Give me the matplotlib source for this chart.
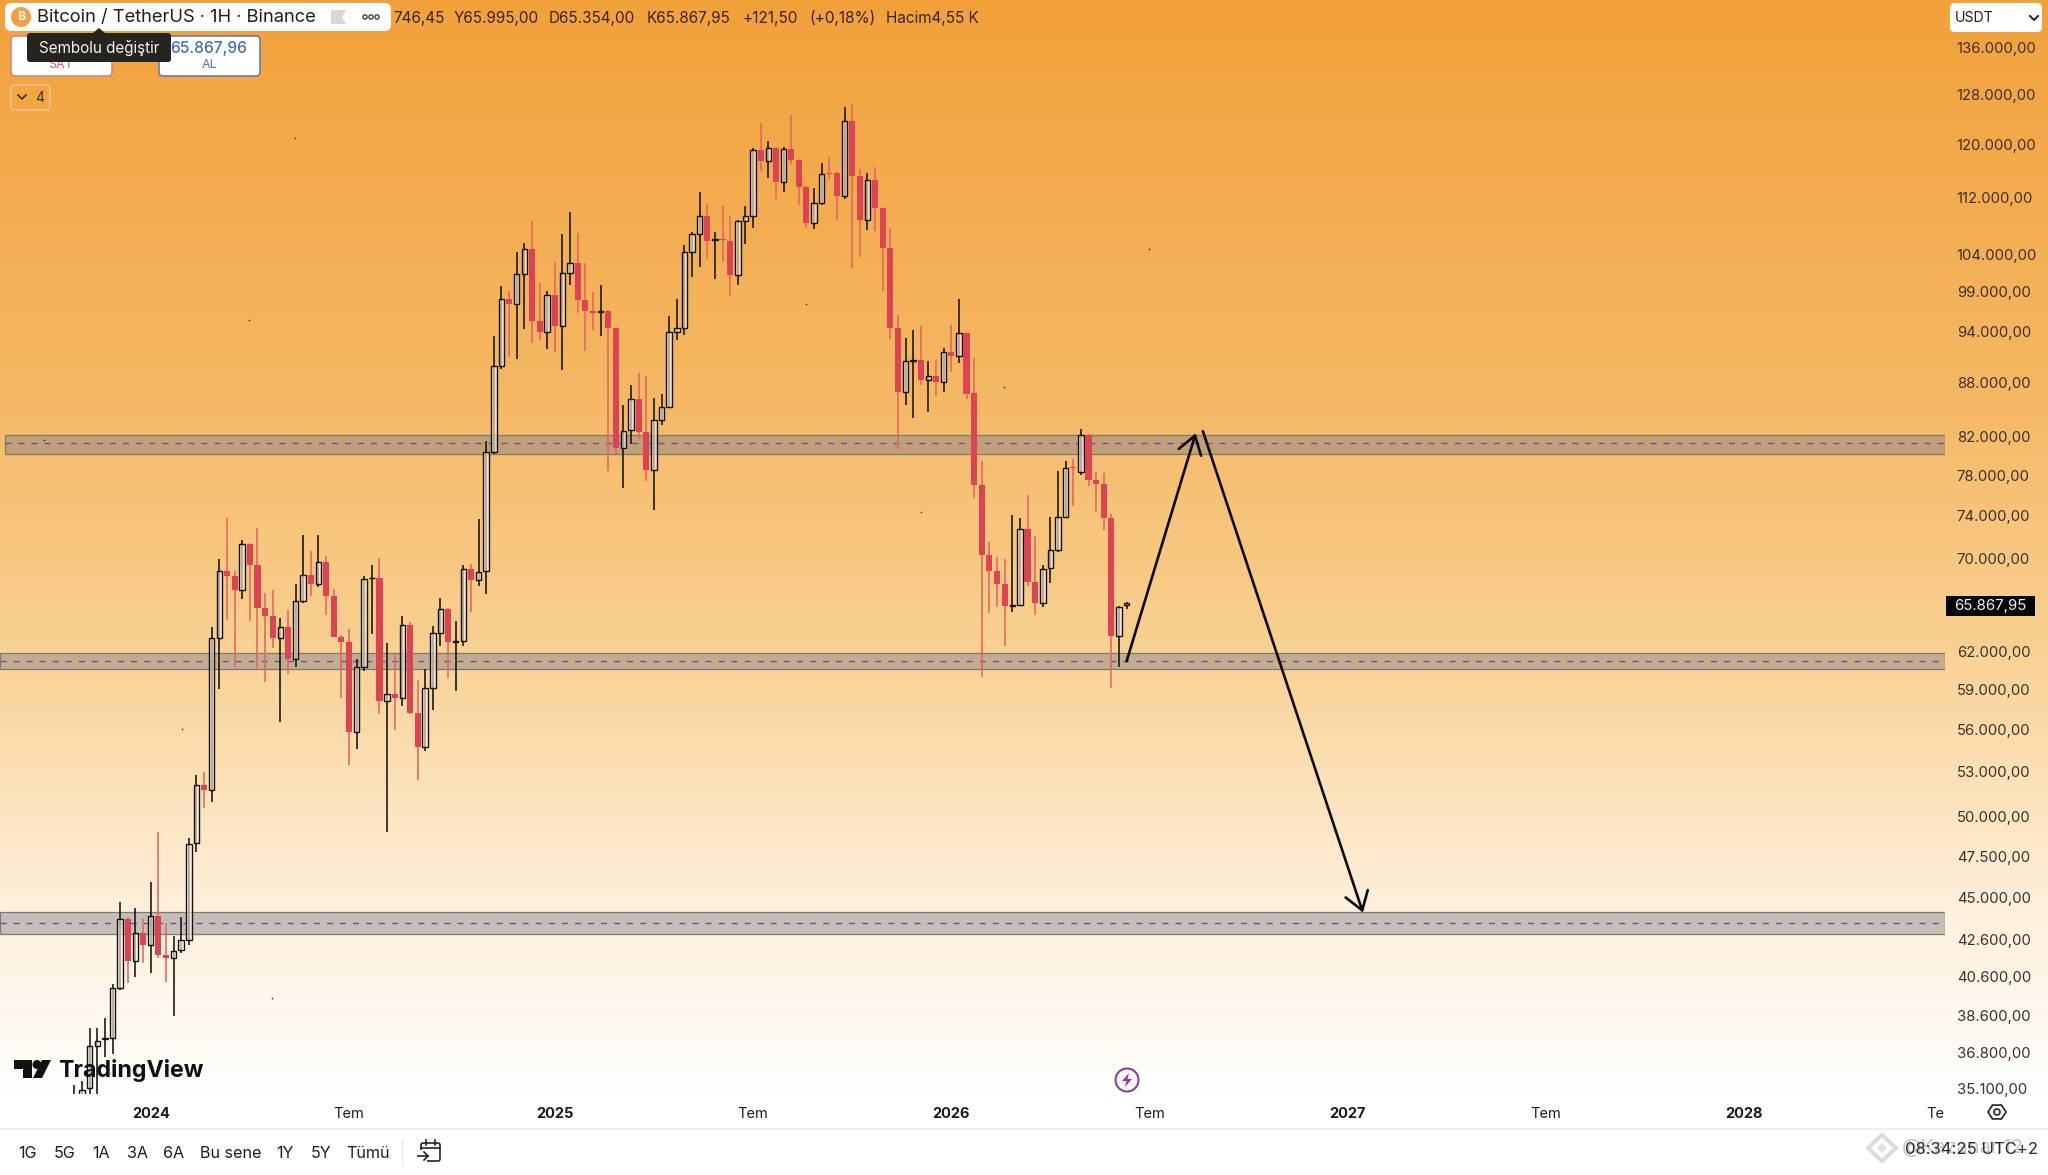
import numpy as np
import matplotlib
matplotlib.use("Agg")
import matplotlib.pyplot as plt
from matplotlib.patches import Circle, FancyBboxPatch, Polygon, Rectangle
from matplotlib.ticker import NullLocator
from matplotlib.transforms import ScaledTranslation

plt.rcParams['font.family'] = ['Inter', 'DejaVu Sans']

opens = [33900,34400,35020,37010,37330,37390,39920,43680,41320,42890,
42200,43830,41660,41530,41950,42510,48180,51990,51620,62940,
68700,68240,67030,71110,69240,65490,64750,62940,63840,61280,
66040,68300,67500,69480,66500,63040,62620,55710,60620,68050,
68100,58000,58500,58260,64000,57070,54600,58960,63370,65400,
62660,62700,68890,67930,68680,80190,89750,97860,97180,101060,
104440,95160,93720,98330,94540,101240,102620,97690,96420,96200,
96300,94250,80610,82500,85920,82280,78320,83640,85030,93720,
94250,104110,106500,109000,105700,105800,105570,100960,108380,109050,
118900,117100,119200,114000,119000,117300,113300,108070,110900,115300,
115300,111900,123360,114900,108500,114300,110200,104600,94200,86720,
90300,90400,88050,88580,87900,91400,90880,93620,86600,76830,
70150,68680,67540,65650,65750,72510,67710,65870,68950,70580,
73700,78600,78150,82000,77330,76930,73550,63150,65700]

highs = [35200,35370,37910,37910,38370,40120,44630,43800,44300,43680,
45800,48910,43450,42720,43790,48530,52680,52870,63850,69770,
73560,68700,71520,71200,72630,66710,67030,64580,65330,67570,
71980,70490,71980,70020,67100,63200,63680,61280,68200,69240,
69880,62540,61660,64800,64300,59640,60460,63940,66320,65500,
64320,69200,69300,73500,81350,93230,99550,98900,104110,105260,
108380,99970,98900,102700,106500,109670,106600,102530,98800,99620,
96500,94300,85240,87460,88860,88500,86060,86450,95700,97860,
105000,106800,112500,110780,106830,110540,109000,108500,110540,119200,
123100,120200,119300,119300,124300,117400,113400,113150,116800,117700,
115400,125600,126100,115900,115300,116300,110300,107300,95920,93030,
94050,94460,90290,90570,91800,94660,97850,93650,90600,79310,
71320,69980,69800,73890,73630,75820,71890,69200,73700,78200,
79310,79500,82670,82100,78100,78000,73950,65650,65995]

lows = [33600,33900,34700,34700,36470,36650,39800,40190,40470,41230,
40680,41490,40240,38510,41760,42240,47670,50450,50840,58920,
64420,60620,66270,64320,60560,59480,62140,56430,60050,60650,
65850,66500,67300,64900,63000,58250,53380,54470,60300,63300,
57000,48910,55820,57650,57000,52300,54350,57300,62340,59730,
58790,62300,65100,67340,66690,80000,89360,90810,90500,94130,
92480,92770,91700,91350,89240,99620,96100,91420,94050,93320,
78240,79940,76530,81070,81530,77190,74390,83070,84900,92800,
93430,100760,102090,103100,100400,102760,98240,99620,105100,107370,
115600,114500,111500,112500,116700,110600,107300,107200,110600,114400,
108450,111500,101900,103400,107100,106900,98870,92930,80550,85270,
83780,87500,84520,86300,86720,89000,90080,85980,75530,59840,
65020,65510,62320,65160,65700,67320,64880,65540,67630,70450,
73700,74770,77800,76700,74220,72440,59000,60620,65354]

closes = [34500,34950,36990,37270,37380,39920,43680,41320,42890,42200,
43830,41660,41490,41910,42470,48160,51990,51620,62940,68700,
68240,67030,71110,69240,65490,64750,62940,63840,61280,66040,
68300,67500,69480,66500,63040,62620,55710,60620,68000,68100,
58000,58500,58260,64000,57070,54600,58960,63370,65400,62660,
62700,68890,67930,68620,80190,89750,97860,97180,101060,104440,
95160,93720,98330,94540,101240,102620,97690,96420,96130,96300,
94250,80610,82400,85920,82320,78320,83570,85000,93720,94210,
104110,106500,109000,105570,105800,105700,100960,108380,109050,118900,
117100,119200,114000,119000,117300,113300,108070,110900,115200,115200,
111900,123360,114900,108500,114300,110200,104600,94200,86720,90290,
90400,88050,88580,87900,91400,90880,93620,86540,76830,70150,
68680,67540,65650,65700,72510,67710,65870,68890,70580,73700,
78560,78500,82000,77330,76930,73550,63150,65540,65867.95]

price_ticks = [136000,128000,120000,112000,104000,99000,94000,88000,82000,78000,74000,
               70000,62000,59000,56000,53000,50000,47500,45000,42600,40600,38600,36800,35100]
price_labels = ["136.000,00","128.000,00","120.000,00","112.000,00","104.000,00","99.000,00",
                "94.000,00","88.000,00","82.000,00","78.000,00","74.000,00","70.000,00",
                "62.000,00","59.000,00","56.000,00","53.000,00","50.000,00","47.500,00",
                "45.000,00","42.600,00","40.600,00","38.600,00","36.800,00","35.100,00"]
time_ticks = [10,36,63,89,115,141,167,193,219,244]
time_labels = ["2024","Tem","2025","Tem","2026","Tem","2027","Tem","2028","Te"]
year_labels = {"2024","2025","2026","2027","2028"}

band_low = [79960,60470,42810]
band_high = [82000,61700,44070]
band_mid = [81140,61090,43450]

up_leg_x = [138.0,147.06]
up_leg_y = [61080,82180]
down_leg_x = [148.0,169.0]
down_leg_y = [82400,44030]
last_price = "65.867,95"

W, H = 2048, 1175
fig = plt.figure(figsize=(W/100, H/100), dpi=100, facecolor='white')

# background gradient
bg = fig.add_axes([0,0,1,1], zorder=0)
stops_y = [0,400,650,900,1098,1100,1175]
stops = np.array([[0xF2,0xA1,0x3A],[0xF5,0xB8,0x65],[0xF9,0xD1,0x93],[0xFE,0xEF,0xD9],
                  [0xFF,0xFF,0xFF],[0xFF,0xFF,0xFF],[0xFF,0xFF,0xFF]])/255
yy = np.arange(H)
img = np.stack([np.interp(yy, stops_y, stops[:,i]) for i in range(3)], axis=1)[:,None,:]
bg.imshow(img, aspect='auto', extent=[0,W,H,0])
bg.axis('off')

# price chart
ax = fig.add_axes([0, (H-1094)/H, 1945/W, 1094/H], zorder=2)
ax.patch.set_alpha(0)
ax.set_yscale('log')
ax.set_ylim(34770, 144450)
ax.set_xlim(-9.77, 245.34)
for s in ax.spines.values():
    s.set_visible(False)

x = np.arange(len(opens))
o, h, l, c = map(np.array, (opens, highs, lows, closes))
up = c >= o
RED = '#DC4453'
ax.vlines(x[up], l[up], h[up], color='#15120c', lw=1.15, zorder=4)
ax.vlines(x[~up], l[~up], h[~up], color='#E2665F', lw=1.15, zorder=4)
ax.bar(x[up], c[up]-o[up], bottom=o[up], width=0.72, facecolor=(1,0.97,0.92,0.62),
       edgecolor='#15120c', linewidth=1.0, zorder=5)
ax.bar(x[~up], o[~up]-c[~up], bottom=c[~up], width=0.8, color=RED, linewidth=0, zorder=5)

for i,(lo,hi,mid) in enumerate(zip(band_low,band_high,band_mid)):
    xmin = 5/1945 if i == 0 else 0
    ax.axhspan(lo, hi, xmin=xmin, xmax=1, facecolor=(0x78/255,0x7B/255,0x86/255,0.42),
               edgecolor='#7d7a76', linewidth=0.9, zorder=2)
    ax.plot([ax.get_xlim()[0]+xmin*255.11, ax.get_xlim()[1]], [mid,mid], color='#7B45A8',
            lw=1.0, dashes=(4.4,5), zorder=3)

ax.annotate('', xy=(up_leg_x[1],up_leg_y[1]), xytext=(up_leg_x[0],up_leg_y[0]),
            arrowprops=dict(arrowstyle='->,head_length=0.9,head_width=0.6', mutation_scale=14,
                            lw=1.9, color='#0b0b0b', shrinkA=0, shrinkB=0), zorder=6)
ax.annotate('', xy=(down_leg_x[1],down_leg_y[1]), xytext=(down_leg_x[0],down_leg_y[0]),
            arrowprops=dict(arrowstyle='->,head_length=0.9,head_width=0.6', mutation_scale=14,
                            lw=1.9, color='#0b0b0b', shrinkA=0, shrinkB=0), zorder=6)

ax.yaxis.tick_right()
ax.set_yticks(price_ticks, labels=price_labels)
ax.yaxis.set_minor_locator(NullLocator())
ax.tick_params(axis='y', which='both', length=0, pad=8.4, labelsize=10.7, labelcolor='#3b3029')
ax.set_xticks(time_ticks, labels=time_labels)
ax.tick_params(axis='x', length=0, pad=9.5, labelsize=10.5, labelcolor='#1a1a1a')
for t in ax.get_xticklabels():
    if t.get_text() in year_labels:
        t.set_fontweight('bold')
down_px = ScaledTranslation(0, -1.2/72, fig.dpi_scale_trans)
for t in ax.get_yticklabels():
    t.set_transform(t.get_transform() + down_px)

# interface layer, in pixel coordinates
ui = fig.add_axes([0,0,1,1], zorder=5)
ui.set_xlim(0,W); ui.set_ylim(H,0); ui.axis('off'); ui.patch.set_alpha(0)

def box(x0,y0,x1,y1,fc,ec='none',lw=1,r=4,z=6):
    ui.add_patch(FancyBboxPatch((x0+r,y0+r),x1-x0-2*r,y1-y0-2*r,boxstyle=f"round,pad={r},rounding_size={r}",
                                fc=fc,ec=ec,lw=lw,zorder=z,mutation_aspect=1))
def txt(x_,y_,s,size=10.4,color='#1a1a1a',ha='left',weight='normal',z=8,**k):
    ui.text(x_,y_,s,fontsize=size,color=color,ha=ha,va='center',fontweight=weight,zorder=z,**k)

# header
for s_,x_ in [("746,45",393),("Y65.995,00",454),("D65.354,00",549),("K65.867,95",647),
              ("+121,50",742),("(+0,18%)",809),("Hacim4,55 K",886)]:
    txt(x_,18,s_,size=11,color='#33261a')
box(5,3,391,31,'white',r=6)
ui.add_patch(Circle((21,17),10,fc='#F0A040',ec='none',zorder=7))
txt(21,17,"B",size=9,color='#fff3df',ha='center',weight='bold')
txt(37,17.5,"Bitcoin / TetherUS · 1H · Binance",size=13.2,color='#1f1f1f')
ui.add_patch(Polygon([(331,10),(346,10),(342,17),(346,24),(331,24)],fc='#d8d8d8',ec='none',zorder=7))
for cx in (365,371,377):
    ui.add_patch(Circle((cx,17),2.1,fc='none',ec='#444444',lw=1,zorder=7))

# buy / sell
box(11,36,112,76,'white',ec='#cf8a80',lw=1.2)
box(159,36,260,76,'white',ec='#6d78a8',lw=1.2)
txt(61,65.5,"SAT",size=9,color='#c4646c',ha='center')
txt(209,48,"65.867,96",size=11.2,color='#3f6db8',ha='center',weight='medium')
txt(209,65.5,"AL",size=9,color='#4f75b5',ha='center')
box(27,33,171,62,'#26241f',r=3,z=9)
ui.add_patch(Polygon([(93,33),(99,28),(105,33)],fc='#26241f',ec='none',zorder=9))
txt(99,48.5,"Sembolu değiştir",size=11,color='#f2f2f2',ha='center',z=10)
box(11,85,50,110,'none',ec='#e8c79a',lw=1,r=3)
ui.plot([18,22,26],[95,99,95],color='#333333',lw=1.2,zorder=8)
txt(35,98,"4",size=10,color='#333333')

# currency box
box(1950,3,2042,32,'white',r=5)
txt(1955,18,"USDT",size=10.2,color='#222222')
ui.plot([2030,2034,2038],[16,20,16],color='#222222',lw=1.4,zorder=8)

# last price tag
ui.add_patch(Rectangle((1946,596),89,20,fc='#050505',ec='none',zorder=7))
txt(1990.5,606,last_price,size=10.8,color='#f2f2f2',ha='center')

# logo
ui.add_patch(Polygon([(14,1060),(32,1060),(32,1078),(23,1078),(23,1069),(14,1069)],fc='#111111',ec='none',zorder=7))
ui.add_patch(Circle((37,1064.5),4.5,fc='#111111',ec='none',zorder=7))
ui.add_patch(Polygon([(42,1060),(51,1060),(42,1078),(33,1078)],fc='#111111',ec='none',zorder=7))
txt(58,1070,"TradingView",size=16.7,color='#111111',weight='bold')

# lightning badge
ui.add_patch(Circle((1127,1080),11.5,fc='#fff8f4',ec='#8c3f9f',lw=1.5,zorder=7))
ui.add_patch(Polygon([(1129,1073),(1122,1081),(1126.5,1081),(1125,1087),(1132,1079),(1127.5,1079)],fc='#8c3f9f',ec='none',zorder=8))

# bottom bar
ui.plot([0,W],[1129,1129],color='#ececec',lw=1.2,zorder=6)
for s_,x_ in [("1G",18),("5G",54),("1A",92),("3A",127),("6A",163),("Bu sene",200),("1Y",276),("5Y",311),("Tümü",346)]:
    txt(x_,1153.5,s_,size=11.6,color='#1f1f1f')
ui.plot([402,402],[1140,1165],color='#e6e6e6',lw=1,zorder=6)
ui.add_patch(FancyBboxPatch((421,1143),19,18,boxstyle="round,pad=0,rounding_size=2",fc='none',ec='#222222',lw=1.2,zorder=7))
ui.add_patch(Rectangle((416,1150),11,12,fc='white',ec='none',zorder=7.5))
ui.plot([421,440],[1148,1148],color='#222222',lw=1.2,zorder=8)
ui.plot([426,426],[1140,1145],color='#222222',lw=1.2,zorder=8)
ui.plot([435,435],[1140,1145],color='#222222',lw=1.2,zorder=8)
ui.plot([418,428],[1156,1156],color='#222222',lw=1.2,zorder=8)
ui.plot([424,428,424],[1152,1156,1160],color='#222222',lw=1.2,zorder=8)

# settings hexagon
ang = np.deg2rad(np.arange(0,360,60))
ui.add_patch(Polygon(np.c_[1997+9*np.cos(ang),1112+8*np.sin(ang)],fc='none',ec='#222222',lw=1.2,zorder=8))
ui.add_patch(Circle((1997,1112),3,fc='none',ec='#222222',lw=1.2,zorder=8))

# watermark and clock
ui.add_patch(Polygon([(1882,1135),(1896,1148),(1882,1161),(1868,1148)],fc='none',ec='#dcdcdc',lw=3,zorder=7))
ui.add_patch(Polygon([(1882,1143),(1887,1148),(1882,1153),(1877,1148)],fc='#e2e2e2',ec='none',zorder=7))
txt(1902,1148,"@Kazanan12",size=14.5,color='#c4c4c4',z=7)
txt(1905,1149,"08:34:25 UTC+2",size=12,color='#2a2a2a')

# specks on the capture
sx = [34,226,191,617,880,769,705,139,208]
sy = [337,106,245,233,191,296,392,558,764]
ui.scatter(np.array(sx)*1.306,np.array(sy)*1.306,s=1.5,color='#333333',linewidths=0,zorder=6)

fig.savefig('out.png', dpi=100)
